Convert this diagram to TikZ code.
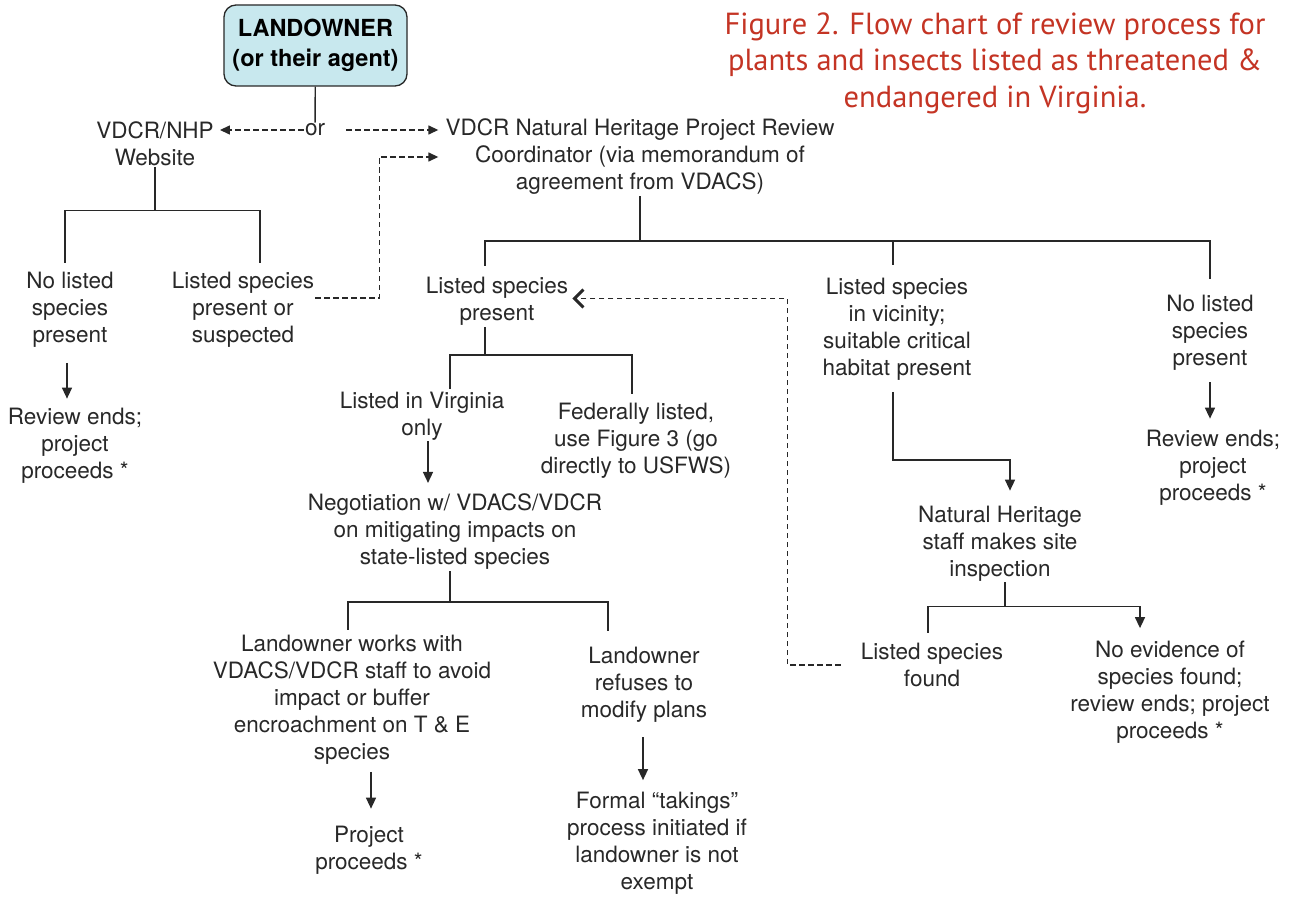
\documentclass[tikz,border=0pt]{standalone}
\usepackage{fontspec}
\setmainfont{TeX Gyre Heros}
\newfontfamily\titlefont{PT Sans}
\usetikzlibrary{arrows.meta}
\definecolor{boxfill}{RGB}{200,232,238}
\definecolor{titlered}{RGB}{196,52,36}
\definecolor{ink}{RGB}{40,40,40}

\begin{document}
\begin{tikzpicture}[x=1pt, y=-1pt]

    \tikzstyle{txt} = [align=center, text=ink, font=\fontsize{22.5}{27}\selectfont, inner sep=1pt]
    \tikzstyle{start} = [rectangle, draw=ink, fill=boxfill, rounded corners=12pt, line width=1.3pt, minimum width=183pt, minimum height=81pt, align=center, font=\bfseries\fontsize{23.5}{30}\selectfont]
    \tikzstyle{line} = [line width=1.4pt, ink]
    \tikzstyle{arrow} = [line, -{Triangle[length=11pt,width=10pt]}]
    \tikzstyle{dashline} = [line, dash pattern=on 5.5pt off 3.5pt]
    \tikzstyle{barb} = [-{Straight Barb[length=9pt,width=18pt,line width=3pt]}]
    \tikzstyle{title} = [align=center, text=titlered, font=\titlefont\fontsize{30.5}{36.5}\selectfont]

    \useasboundingbox (0,0) rectangle (1297,896);

    \node[title] (caption) at (995,63) {Figure 2. Flow chart of review process for\\plants and insects listed as threatened \&\\endangered in Virginia.};

    \node[start] (owner) at (315.5,45.5) {LANDOWNER\\(or their agent)};
    \node[txt] (or) at (315,130) {or};
    \node[txt] (web) at (155,143.5) {VDCR/NHP\\Website};
    \node[txt] (coord) at (640,157) {VDCR Natural Heritage Project Review\\Coordinator (via memorandum of\\agreement from VDACS)};

    \node[txt] (noweb) at (70,310) {No listed\\species\\present};
    \node[txt] (yesweb) at (243,310) {Listed species\\present or\\suspected};
    \node[txt] (endweb) at (75,445.5) {Review ends;\\project\\proceeds *};

    \node[txt] (present) at (497,301.5) {Listed species\\present};
    \node[txt] (vicinity) at (897,329.5) {Listed species\\in vicinity;\\suitable critical\\habitat present};
    \node[txt] (nolisted) at (1210,332.5) {No listed\\species\\present};
    \node[txt] (endno) at (1213,467.5) {Review ends;\\project\\proceeds *};

    \node[txt] (virginia) at (422,416) {Listed in Virginia\\only};
    \node[txt] (federal) at (636,440.5) {Federally listed,\\use Figure 3 (go\\directly to USFWS)};
    \node[txt] (negot) at (455,532) {Negotiation w/ VDACS/VDCR\\on mitigating impacts on\\state-listed species};
    \node[txt] (works) at (352,700) {Landowner works with\\VDACS/VDCR staff to avoid\\impact or buffer\\encroachment on T \& E\\species};
    \node[txt] (refuses) at (644,684.5) {Landowner\\refuses to\\modify plans};
    \node[txt] (proceeds) at (369,850) {Project\\proceeds *};
    \node[txt] (takings) at (657,843.5) {Formal “takings”\\process initiated if\\landowner is not\\exempt};

    \node[txt] (inspect) at (1000,543.5) {Natural Heritage\\staff makes site\\inspection};
    \node[txt] (found) at (932,665) {Listed species\\found};
    \node[txt] (noevid) at (1170,692.5) {No evidence of\\species found;\\review ends; project\\proceeds *};

    % landowner chooses a route
    \draw[line] (owner) -- (or);
    \draw[dashline, -{Triangle[length=10pt,width=9pt]}, shorten >=5pt] (or.west) -- (web.east |- or.west);
    \draw[dashline, -{Triangle[length=10pt,width=9pt]}, shorten <=20pt, shorten >=6pt] (or.east) -- (coord.west |- or.east);

    % website branch
    \draw[line] (web.south) -- ++(0,44) coordinate (webfork);
    \draw[line, shorten >=8pt] (webfork) -| ([xshift=-5pt]noweb.north);
    \draw[line, shorten >=8pt] (webfork) -| ([xshift=17pt]yesweb.north);
    \draw[arrow, shorten <=14pt, shorten >=8pt] ([xshift=-3pt]noweb.south) -- ([xshift=-3pt]noweb.south |- endweb.north);
    \draw[dashline, -{Triangle[length=10pt,width=9pt]}, shorten >=6pt] ([yshift=12pt]yesweb.east) -- ++(64,0) |- (coord.west);

    % coordinator branch
    \draw[line] (coord.south) -- ++(0,45) coordinate (cfork);
    \draw[line, shorten >=10pt] (cfork) -| ([xshift=-12pt]present.north);
    \draw[line, shorten >=12pt] (cfork) -| ([xshift=-4pt]vicinity.north);
    \draw[line, shorten >=15pt] (cfork) -| (nolisted.north);
    \draw[arrow, shorten <=11pt, shorten >=10pt] (nolisted.south) -- (nolisted.south |- endno.north);

    % listed species present
    \draw[line] ([xshift=-12pt]present.south) -- ++(0,28) coordinate (pfork);
    \draw[line, shorten >=2pt] (pfork) -| ([xshift=28pt]virginia.north);
    \draw[line, shorten >=8pt] (pfork) -| ([xshift=-4pt]federal.north);
    \draw[arrow, shorten >=10pt] ([xshift=6pt]virginia.south) -- ([xshift=6pt]virginia.south |- negot.north);

    % negotiation
    \draw[line] ([xshift=-5pt]negot.south) -- ++(0,31) coordinate (nfork);
    \draw[line, shorten >=4pt] (nfork) -| ([xshift=-4pt]works.north);
    \draw[line, shorten >=15pt] (nfork) -| ([xshift=-36pt]refuses.north);
    \draw[arrow, shorten <=6pt, shorten >=16pt] ([xshift=19pt]works.south) -- ([xshift=19pt]works.south |- proceeds.north);
    \draw[arrow, shorten <=14pt, shorten >=11pt] ([xshift=-1pt]refuses.south) -- ([xshift=-1pt]refuses.south |- takings.north);

    % site inspection
    \draw[arrow, shorten <=10pt, shorten >=14pt] ([xshift=-4pt]vicinity.south) -- ++(0,78) -| ([xshift=10pt]inspect.north);
    \draw[line] ([xshift=5pt]inspect.south) -- ++(0,24) coordinate (ifork);
    \draw[line, shorten >=9pt] (ifork) -| ([xshift=-4pt]found.north);
    \draw[arrow, shorten >=12pt] (ifork) -| ([xshift=-30pt]noevid.north);
    \draw[dashline, barb, shorten <=19pt, shorten >=3pt] (found.west) -- ++(-72,0) |- ([yshift=3pt]present.east);

\end{tikzpicture}
\end{document}
